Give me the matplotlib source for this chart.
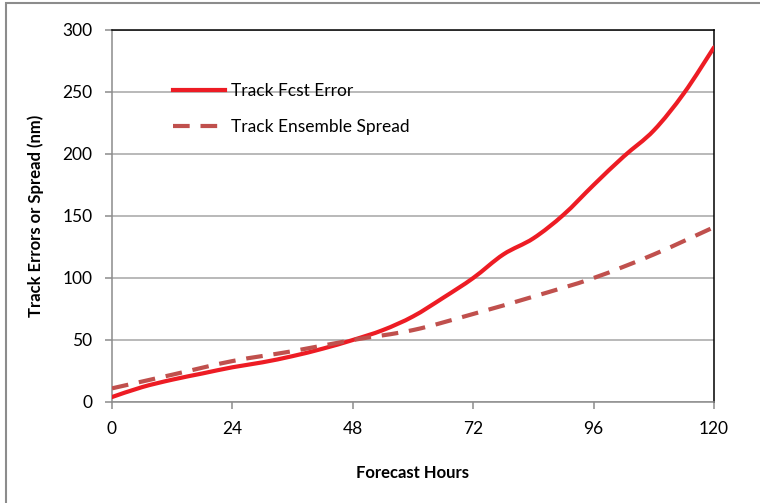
import numpy as np
import matplotlib
matplotlib.use("Agg")
import matplotlib.pyplot as plt
from matplotlib.path import Path
from matplotlib.patches import PathPatch, Rectangle
from matplotlib.lines import Line2D

# values
error_hours = [0, 6, 12, 18, 24, 30, 36, 42, 48, 54, 60, 66, 72, 78, 84, 90, 96, 102, 108, 114, 120]
track_error = [4, 12, 18, 23, 28, 32, 37, 43, 50, 58, 69, 84, 100, 119, 132, 151, 175, 198, 219, 249, 286]

spread_hours = [0, 12, 24, 36, 48, 60, 72, 84, 96, 108, 120]
track_spread = [11, 22, 33, 41, 50, 58, 71, 85, 100, 119, 141]

x_ticks = [0, 24, 48, 72, 96, 120]
y_ticks = [0, 50, 100, 150, 200, 250, 300]

ERR_COLOR = "#ED1C24"
SPR_COLOR = "#C0504D"

plt.rcParams["font.family"] = ["Lato", "DejaVu Sans"]


def smooth_path(x, y):
    """Excel-style smoothed line as a cubic Bezier path."""
    p = np.column_stack([x, y]).astype(float)
    n = len(p)
    verts = [p[0]]
    codes = [Path.MOVETO]
    for i in range(n - 1):
        p0 = p[i - 1] if i > 0 else p[i]
        p3 = p[i + 2] if i + 2 < n else p[i + 1]
        c1 = p[i] + (p[i + 1] - p0) / 6.0
        c2 = p[i + 1] - (p3 - p[i]) / 6.0
        verts += [c1, c2, p[i + 1]]
        codes += [Path.CURVE4] * 3
    return Path(verts, codes)


fig = plt.figure(figsize=(7.6, 5.03), dpi=100)
# outer chart border (only top and left edges are visible in the reference)
fig.patches.append(Rectangle((6 / 760, -0.1), 1.2, 1.1 - 3 / 503, transform=fig.transFigure,
                             fill=False, edgecolor="#8c8c8c", linewidth=1.5))

ax = fig.add_axes([112 / 760, 1 - 402 / 503, 602 / 760, 372 / 503])

ax.add_patch(PathPatch(smooth_path(error_hours, track_error), fill=False,
                       edgecolor=ERR_COLOR, linewidth=3, capstyle="round", zorder=3))
ax.add_patch(PathPatch(smooth_path(spread_hours, track_spread), fill=False,
                       edgecolor=SPR_COLOR, linewidth=3, linestyle=(0, (4, 2.6)), zorder=3))

ax.set_xlim(0, 120)
ax.set_ylim(0, 300)
ax.set_xticks(x_ticks)
ax.set_yticks(y_ticks)
ax.yaxis.grid(True, color="#a6a6a6", linewidth=1.1)
ax.set_axisbelow(True)

for side in ("left", "bottom"):
    ax.spines[side].set_color("#8c8c8c")
    ax.spines[side].set_linewidth(1.1)
for side in ("top", "right"):
    ax.spines[side].set_color("black")
    ax.spines[side].set_linewidth(1.1)

ax.tick_params(axis="both", direction="out", length=5, width=1.1, color="#8c8c8c",
               labelsize=12.5, labelcolor="black")
ax.tick_params(axis="y", pad=9)
ax.tick_params(axis="x", pad=9)

ax.set_xlabel("Forecast Hours", fontsize=12, fontweight="bold", labelpad=20)
ax.set_ylabel("Track Errors or Spread (nm)", fontsize=12, fontweight="bold", labelpad=13)

handles = [Line2D([], [], color=ERR_COLOR, linewidth=3),
           Line2D([], [], color=SPR_COLOR, linewidth=3, dashes=(4, 2.6))]
ax.legend(handles, ["Track Fcst Error", "Track Ensemble Spread"], frameon=False,
          loc="upper left", bbox_to_anchor=(0.075, 0.9), fontsize=12.5,
          handlelength=3.0, handletextpad=0.35, labelspacing=1.15)

fig.savefig("out.png", dpi=100)
